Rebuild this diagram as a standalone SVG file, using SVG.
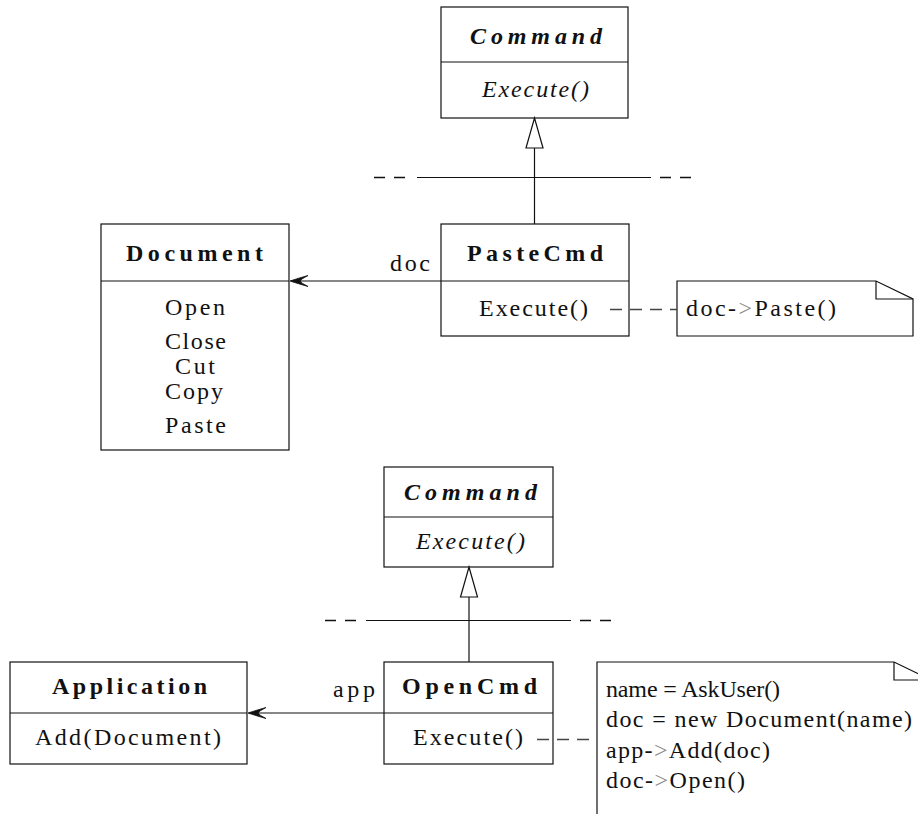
<svg xmlns="http://www.w3.org/2000/svg" width="918" height="814" viewBox="0 0 918 814">
  <style>
    .box { fill: #fff; stroke: #111; stroke-width: 1.2; }
    .sep { stroke: #111; stroke-width: 1.2; }
    .line { stroke: #111; stroke-width: 1.2; fill: none; }
    .dash { stroke: #444; stroke-width: 1.3; fill: none; stroke-dasharray: 12 8; }
    .hier { stroke: #111; stroke-width: 1.3; fill: none; stroke-dasharray: 11 9; }
    .tri { fill: #fff; stroke: #111; stroke-width: 1.2; }
    .head { fill: #111; stroke: #111; stroke-width: 0.8; }
    .title { font-weight: bold; }
    .abs { font-weight: bold; font-style: italic; }
    .it { font-style: italic; }
    .gt { fill: #888; }
  </style>

  <g font-family="'Liberation Serif', 'DejaVu Serif', serif" font-size="24" fill="#111">
  <!-- ===== Paste command part ===== -->
  <g id="command-top">
    <rect class="box" x="441" y="7" width="187" height="111"/>
    <line class="sep" x1="441" y1="62" x2="628" y2="62"/>
    <text class="abs" x="470" y="44" textLength="132" lengthAdjust="spacing">Command</text>
    <text class="it" x="482" y="97" textLength="107" lengthAdjust="spacing">Execute()</text>
  </g>

  <g id="document">
    <rect class="box" x="101" y="224" width="188" height="226"/>
    <line class="sep" x1="101" y1="281" x2="289" y2="281"/>
    <text class="title" x="126" y="261" textLength="137" lengthAdjust="spacing">Document</text>
    <text x="165" y="315" textLength="60" lengthAdjust="spacing">Open</text>
    <text x="165" y="349" textLength="61" lengthAdjust="spacing">Close</text>
    <text x="175" y="374" textLength="40" lengthAdjust="spacing">Cut</text>
    <text x="165" y="399" textLength="58" lengthAdjust="spacing">Copy</text>
    <text x="165" y="433" textLength="61" lengthAdjust="spacing">Paste</text>
  </g>

  <g id="pastecmd">
    <rect class="box" x="441" y="224" width="188" height="112"/>
    <line class="sep" x1="441" y1="281" x2="629" y2="281"/>
    <text class="title" x="467" y="261" textLength="136" lengthAdjust="spacing">PasteCmd</text>
    <text x="479" y="316" textLength="109" lengthAdjust="spacing">Execute()</text>
  </g>

  <g id="note-paste">
    <path class="box" d="M677,281 H876 L913,299 V336 H677 Z"/>
    <path class="line" d="M876,281 V299 H913"/>
    <text x="686" y="316" textLength="150" lengthAdjust="spacing">doc-<tspan class="gt">&gt;</tspan>Paste()</text>
  </g>

  <!-- ===== Open command part ===== -->
  <g id="command-bottom">
    <rect class="box" x="384" y="467" width="169" height="100"/>
    <line class="sep" x1="384" y1="517" x2="553" y2="517"/>
    <text class="abs" x="404" y="500" textLength="133" lengthAdjust="spacing">Command</text>
    <text class="it" x="416" y="549" textLength="109" lengthAdjust="spacing">Execute()</text>
  </g>

  <g id="application">
    <rect class="box" x="10" y="662" width="237" height="102"/>
    <line class="sep" x1="10" y1="713" x2="247" y2="713"/>
    <text class="title" x="52" y="694" textLength="155" lengthAdjust="spacing">Application</text>
    <text x="35" y="745" textLength="186" lengthAdjust="spacing">Add(Document)</text>
  </g>

  <g id="opencmd">
    <rect class="box" x="384" y="662" width="169" height="102"/>
    <line class="sep" x1="384" y1="713" x2="553" y2="713"/>
    <text class="title" x="402" y="694" textLength="135" lengthAdjust="spacing">OpenCmd</text>
    <text x="413" y="745" textLength="110" lengthAdjust="spacing">Execute()</text>
  </g>

  <g id="note-open">
    <path class="box" d="M597,662 H894 L931,680 V830 H597 Z"/>
    <path class="line" d="M894,662 V680 H931"/>
    <text x="606" y="697" textLength="174" lengthAdjust="spacing">name = AskUser()</text>
    <text x="606" y="727" textLength="306" lengthAdjust="spacing">doc = new Document(name)</text>
    <text x="606" y="758" textLength="164" lengthAdjust="spacing">app-<tspan class="gt">&gt;</tspan>Add(doc)</text>
    <text x="606" y="788" textLength="139" lengthAdjust="spacing">doc-<tspan class="gt">&gt;</tspan>Open()</text>
  </g>

  <!-- ===== Connectors ===== -->
  <g id="connectors">
    <!-- inheritance, paste -->
    <line class="line" x1="534.5" y1="148" x2="534.5" y2="224"/>
    <path class="tri" d="M534.5,118 L543,148 H526 Z"/>
    <line class="hier" x1="374" y1="177.5" x2="410" y2="177.5"/>
    <line class="line" x1="417" y1="177.5" x2="651" y2="177.5"/>
    <line class="hier" x1="660" y1="177.5" x2="695" y2="177.5"/>

    <!-- association doc -->
    <line class="line" x1="441" y1="281" x2="291" y2="281"/>
    <path class="head" d="M290,281 Q299,278 308,275.5 Q301,279 300,281 Q301,283 308,286.5 Q299,284 290,281 Z"/>
    <text x="390" y="271" textLength="40" lengthAdjust="spacing">doc</text>

    <!-- note link, paste -->
    <line class="dash" x1="610" y1="309.5" x2="677" y2="309.5"/>

    <!-- inheritance, open -->
    <line class="line" x1="469" y1="597" x2="469" y2="662"/>
    <path class="tri" d="M469,567 L477.5,597 H460.5 Z"/>
    <line class="hier" x1="325" y1="620.5" x2="360" y2="620.5"/>
    <line class="line" x1="366" y1="620.5" x2="571" y2="620.5"/>
    <line class="hier" x1="580" y1="620.5" x2="614" y2="620.5"/>

    <!-- association app -->
    <line class="line" x1="384" y1="713" x2="249" y2="713"/>
    <path class="head" d="M248,713 Q257,710 266,707.5 Q259,711 258,713 Q259,715 266,718.5 Q257,716 248,713 Z"/>
    <text x="333" y="697" textLength="42" lengthAdjust="spacing">app</text>

    <!-- note link, open -->
    <line class="dash" x1="537" y1="739.5" x2="597" y2="739.5"/>
  </g>
  </g>
</svg>
